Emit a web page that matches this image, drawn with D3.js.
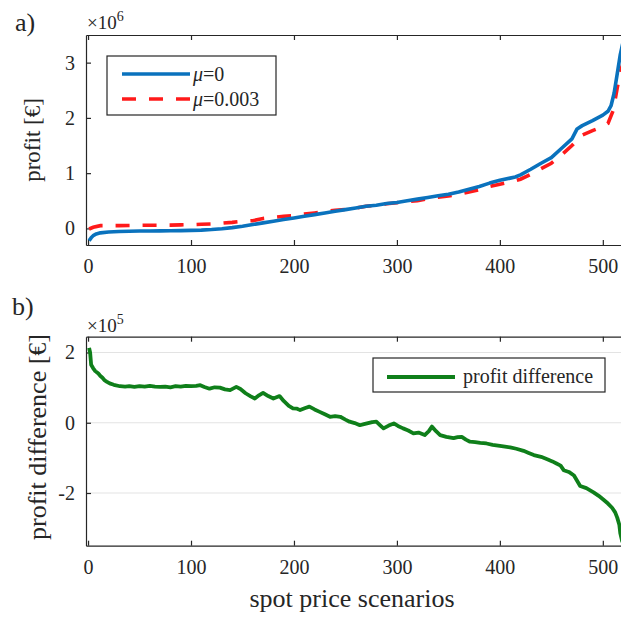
<!DOCTYPE html>
<html><head><meta charset="utf-8">
<script src="https://cdn.jsdelivr.net/npm/d3@7"></script>
<style>
html,body{margin:0;padding:0;background:#fff;}
svg text{font-family:"Liberation Serif","DejaVu Serif",serif;fill:#262626;}
</style></head><body>
<svg id="c" width="621" height="619"></svg>
<script>
// ---------- data ----------
const profitScenarios = [1,3,5,8,12,20,30,40,50,60,70,80,90,100,110,120,130,140,150,160,170,180,190,200,210,220,230,240,250,260,270,280,290,300,310,320,330,340,350,360,370,380,390,400,410,415,420,430,440,450,460,470,475,480,490,500,505,508,511,514,517,520];
const profitMu0 = [-0.22,-0.17,-0.13,-0.10,-0.08,-0.065,-0.055,-0.05,-0.048,-0.046,-0.044,-0.043,-0.04,-0.035,-0.03,-0.02,-0.005,0.015,0.04,0.07,0.10,0.13,0.16,0.19,0.22,0.25,0.28,0.31,0.34,0.37,0.40,0.42,0.45,0.47,0.50,0.53,0.56,0.59,0.62,0.66,0.71,0.76,0.82,0.87,0.91,0.93,0.97,1.07,1.18,1.28,1.45,1.62,1.80,1.86,1.95,2.05,2.12,2.22,2.45,2.80,3.15,3.40];
const redScenarios = [1,5,12,20,30,40,50,60,70,80,90,100,110,120,130,140,150,160,170,180,190,200,210,220,230,240,250,260,270,280,290,300,310,320,330,340,350,360,370,380,390,400,410,420,430,440,450,460,470,480,490,500,505,510,514,517,520];
const profitMu003 = [-0.01,0.02,0.05,0.05,0.05,0.053,0.056,0.058,0.059,0.059,0.064,0.069,0.075,0.08,0.095,0.11,0.13,0.14,0.18,0.20,0.22,0.23,0.26,0.28,0.30,0.33,0.345,0.37,0.40,0.42,0.445,0.465,0.49,0.50,0.54,0.565,0.585,0.62,0.66,0.70,0.76,0.80,0.84,0.89,0.98,1.08,1.18,1.33,1.50,1.69,1.77,1.84,1.90,2.13,2.54,2.84,3.00];
const diffScenarios = [1,2,3,5,7,10,12,14,16,18,21,25,31,36,40,45,50,55,60,65,70,75,80,85,90,95,100,105,109,113,118,123,128,133,138,144,148,153,158,162,166,170,175,180,186,190,195,199,203,206,211,215,220,225,230,235,240,245,250,254,259,264,268,272,276,280,284,287,292,297,301,306,311,316,321,327,331,334,338,342,348,355,359,363,367,371,376,381,387,393,400,405,410,416,423,428,433,440,446,451,455,459,462,467,472,475,478,484,491,496,501,505,509,512,514,516,517,519];
const profitDiff = [2.13,2.0,1.65,1.55,1.47,1.40,1.33,1.28,1.21,1.17,1.12,1.08,1.04,1.03,1.04,1.02,1.04,1.03,1.05,1.03,1.02,1.03,1.01,1.04,1.03,1.05,1.04,1.05,1.07,1.02,0.97,1.01,1.0,0.95,0.93,1.02,0.96,0.84,0.75,0.69,0.78,0.85,0.76,0.69,0.76,0.62,0.48,0.41,0.40,0.36,0.42,0.46,0.38,0.31,0.24,0.17,0.19,0.17,0.09,0.03,-0.01,-0.07,-0.04,-0.01,0.02,0.03,-0.08,-0.16,-0.08,-0.02,-0.09,-0.16,-0.22,-0.30,-0.28,-0.35,-0.24,-0.11,-0.24,-0.35,-0.40,-0.44,-0.41,-0.40,-0.48,-0.54,-0.55,-0.57,-0.59,-0.63,-0.66,-0.68,-0.70,-0.74,-0.80,-0.86,-0.92,-0.97,-1.04,-1.10,-1.16,-1.22,-1.35,-1.40,-1.50,-1.65,-1.80,-1.86,-1.98,-2.08,-2.20,-2.30,-2.42,-2.55,-2.70,-2.90,-3.15,-3.40];
const xTicks = [0,100,200,300,400,500];
const topYTicks = [0,1,2,3];
const botYTicks = [-2,0,2];
const legendTop = ["\u03bc=0","\u03bc=0.003"];
const legendBot = ["profit difference"];

// ---------- layout ----------
const svg = d3.select("#c");
const L = 86, R = 644;
const x = d3.scaleLinear().domain([-2,540]).range([L,R]);
const yTop = d3.scaleLinear().domain([-0.3,3.5]).range([245,35]);
const yBot = d3.scaleLinear().domain([-3.5,2.45]).range([545.7,336.7]);
const axisCol = "#262626";
const fmt = d => String(d);

function panel(y, yTicks, id, grid){
  const [b,t] = y.range();
  svg.append("clipPath").attr("id",id).append("rect")
    .attr("x",L).attr("y",t).attr("width",R-L).attr("height",b-t);
  if(grid){
    svg.append("g").selectAll("line").data(yTicks).join("line")
      .attr("x1",L).attr("x2",R).attr("y1",d=>y(d)).attr("y2",d=>y(d))
      .attr("stroke","#e3e3e3").attr("stroke-width",1);
  }
  const gx = svg.append("g").attr("transform",`translate(0,${b})`)
    .call(d3.axisBottom(x).tickValues(xTicks).tickFormat(fmt).tickSizeInner(-5).tickSizeOuter(0).tickPadding(14));
  const gxt = svg.append("g").attr("transform",`translate(0,${t})`)
    .call(d3.axisTop(x).tickValues(xTicks).tickSizeInner(-5).tickSizeOuter(0).tickFormat(""));
  const gy = svg.append("g").attr("transform",`translate(${L},0)`)
    .call(d3.axisLeft(y).tickValues(yTicks).tickFormat(fmt).tickSizeInner(-5).tickSizeOuter(0).tickPadding(11));
  [gx,gxt,gy].forEach(g=>{
    g.select(".domain").attr("stroke",axisCol).attr("stroke-width",1.2);
    g.selectAll(".tick line").attr("stroke",axisCol).attr("stroke-width",1.2);
    g.selectAll(".tick text").attr("font-size",20).attr("fill",axisCol)
      .style("font-family","Liberation Serif");
  });
}

// ---- top panel ----
panel(yTop, topYTicks, "clipTop", false);
const lineTopBlue = d3.line().x((d,i)=>x(profitScenarios[i])).y(d=>yTop(d));
const lineTopRed = d3.line().x((d,i)=>x(redScenarios[i])).y(d=>yTop(d));
svg.append("path").attr("d",lineTopRed(profitMu003)).attr("clip-path","url(#clipTop)")
  .attr("fill","none").attr("stroke","#ff1a1a").attr("stroke-width",3.6).attr("stroke-dasharray","14,13");
svg.append("path").attr("d",lineTopBlue(profitMu0)).attr("clip-path","url(#clipTop)")
  .attr("fill","none").attr("stroke","#0a72bd").attr("stroke-width",3.6).attr("stroke-linejoin","round");

// ---- bottom panel ----
panel(yBot, botYTicks, "clipBot", true);
const lineBot = d3.line().x((d,i)=>x(diffScenarios[i])).y(d=>yBot(d));
svg.append("path").attr("d",lineBot(profitDiff)).attr("clip-path","url(#clipBot)")
  .attr("fill","none").attr("stroke","#0f7f1a").attr("stroke-width",3.8).attr("stroke-linejoin","round");

// ---- legends ----
const lt = svg.append("g");
lt.append("rect").attr("x",107).attr("y",56).attr("width",169).attr("height",59)
  .attr("fill","#fff").attr("stroke","#262626").attr("stroke-width",1.2);
lt.append("line").attr("x1",122).attr("x2",190).attr("y1",74).attr("y2",74)
  .attr("stroke","#0a72bd").attr("stroke-width",3.6);
lt.append("line").attr("x1",122).attr("x2",190).attr("y1",99).attr("y2",99)
  .attr("stroke","#ff1a1a").attr("stroke-width",3.6).attr("stroke-dasharray","14,13");
legendTop.forEach((s,i)=>{
  lt.append("text").attr("x",193).attr("y",[81,106][i]).attr("font-size",20)
    .html(`<tspan font-style="italic">\u03bc</tspan>${s.slice(1)}`);
});
const lb = svg.append("g");
lb.append("rect").attr("x",373).attr("y",358).attr("width",232).attr("height",34)
  .attr("fill","#fff").attr("stroke","#262626").attr("stroke-width",1.2);
lb.append("line").attr("x1",387).attr("x2",455).attr("y1",377).attr("y2",377)
  .attr("stroke","#0f7f1a").attr("stroke-width",3.8);
lb.append("text").attr("x",463).attr("y",383).attr("font-size",20).text(legendBot[0]);

// ---- labels ----
svg.append("text").attr("transform","translate(40,140) rotate(-90)").attr("text-anchor","middle")
  .attr("font-size",23).text("profit [\u20ac]");
svg.append("text").attr("transform","translate(46,437) rotate(-90)").attr("text-anchor","middle")
  .attr("font-size",26).text("profit difference [\u20ac]");
svg.append("text").attr("x",352).attr("y",607).attr("text-anchor","middle")
  .attr("font-size",26).text("spot price scenarios");
svg.append("text").attr("x",15).attr("y",31).attr("font-size",26).text("a)");
svg.append("text").attr("x",12).attr("y",315).attr("font-size",26).text("b)");
svg.append("text").attr("x",87).attr("y",29).attr("font-size",19)
  .html('\u00d710<tspan dy="-8" font-size="14">6</tspan>');
svg.append("text").attr("x",87).attr("y",332).attr("font-size",19)
  .html('\u00d710<tspan dy="-8" font-size="14">5</tspan>');
</script>
</body></html>
